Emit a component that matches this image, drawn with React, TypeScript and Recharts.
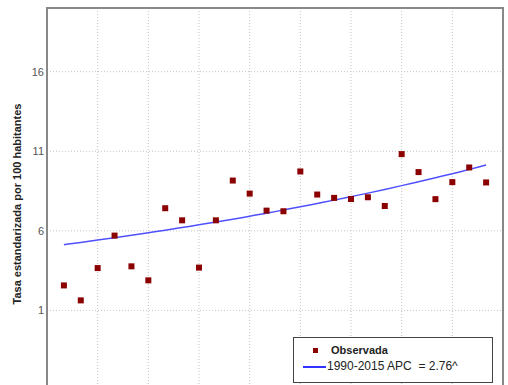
import { ComposedChart, Scatter, Line, XAxis, YAxis, CartesianGrid, ReferenceArea, Legend } from 'recharts';

const years = [
  1990, 1991, 1992, 1993, 1994, 1995, 1996, 1997, 1998, 1999, 2000, 2001, 2002,
  2003, 2004, 2005, 2006, 2007, 2008, 2009, 2010, 2011, 2012, 2013, 2014, 2015,
];
const observed = [
  2.57, 1.63, 3.66, 5.7, 3.77, 2.89, 7.42, 6.66, 3.69, 6.66, 9.16, 8.34, 7.27,
  7.23, 9.73, 8.28, 8.07, 8.0, 8.11, 7.56, 10.82, 9.69, 7.99, 9.06, 9.98, 9.04,
];
const fitted = [
  5.13, 5.27, 5.42, 5.57, 5.72, 5.88, 6.04, 6.21, 6.38, 6.55, 6.73, 6.92, 7.11,
  7.31, 7.51, 7.72, 7.93, 8.15, 8.37, 8.6, 8.84, 9.09, 9.34, 9.59, 9.86, 10.13,
];
const xTicks = [1989, 1992, 1995, 1998, 2001, 2004, 2007, 2010, 2013, 2016];
const yTicks = [1, 6, 11, 16];
const yLabel = 'Tasa estandarizada por 100 habitantes';
const obsName = 'Observada';
const fitName = '1990-2015 APC  = 2.76^';

const data = years.map((y, i) => ({ year: y, obs: observed[i], fit: fitted[i] }));

const font = '"Liberation Sans", Arial, sans-serif';

function LegendBox() {
  return (
    <div style={{ position: 'relative', width: 198, height: 44, fontFamily: font, color: '#222' }}>
      <div style={{ position: 'absolute', left: 19, top: 10, width: 5, height: 5, background: '#8b0000' }} />
      <div style={{ position: 'absolute', left: 37, top: 5, fontSize: 11, fontWeight: 'bold', lineHeight: '14px' }}>
        {obsName}
      </div>
      <div style={{ position: 'absolute', left: 9, top: 28, width: 23, height: 2, background: '#3333ff' }} />
      <div style={{ position: 'absolute', left: 33, top: 21, fontSize: 12, lineHeight: '15px', whiteSpace: 'pre' }}>
        {fitName}
      </div>
    </div>
  );
}

function Square(props: any) {
  const { cx, cy } = props;
  if (cx == null || cy == null) return null;
  return <rect x={cx - 3} y={cy - 3} width={6} height={6} fill="#8b0000" />;
}

export default function App() {
  return (
    <div style={{ position: 'absolute', left: 0, top: 0, width: 508, height: 385, overflow: 'hidden', background: '#fff' }}>
      <ComposedChart
        width={508}
        height={392}
        data={data}
        margin={{ top: 8, right: 5, left: 0, bottom: 2 }}
      >
        <CartesianGrid stroke="#c4c4c4" strokeDasharray="1 2" verticalValues={xTicks} horizontalValues={yTicks} />
        <XAxis
          dataKey="year"
          type="number"
          domain={[1989, 2016]}
          ticks={xTicks}
          tick={() => null}
          tickLine={false}
          axisLine={false}
          height={0}
        />
        <YAxis
          type="number"
          domain={[-4, 20]}
          ticks={yTicks}
          width={47}
          tickLine={false}
          axisLine={false}
          tickSize={0}
          tickMargin={3}
          tick={{ fill: '#555', fontSize: 11, fontFamily: font }}
          label={{
            value: yLabel,
            content: ({ viewBox }: any) => {
              const x = 17;
              const y = viewBox.y + viewBox.height / 2 + 5;
              return (
                <text
                  x={x}
                  y={y}
                  transform={`rotate(-90, ${x}, ${y})`}
                  textAnchor="middle"
                  dominantBaseline="central"
                  fontSize={11}
                  fontWeight="bold"
                  fontFamily={font}
                  fill="#222"
                >
                  {yLabel}
                </text>
              );
            },
          }}
        />
        <ReferenceArea x1={1989} x2={2016} y1={-4} y2={20} fill="none" stroke="#888" strokeWidth={2} />
        <Line
          dataKey="fit"
          type="monotone"
          stroke="#5050ff"
          strokeWidth={1.5}
          dot={false}
          isAnimationActive={false}
        />
        <Scatter dataKey="obs" shape={<Square />} isAnimationActive={false} />
        <Legend
          layout="horizontal"
          align="center"
          verticalAlign="middle"
          content={() => <LegendBox />}
          wrapperStyle={{
            position: 'absolute',
            left: 293,
            top: 337,
            width: 198,
            height: 44,
            border: '1px solid #444',
            background: '#fff',
            bottom: 'auto',
          }}
        />
      </ComposedChart>
    </div>
  );
}
